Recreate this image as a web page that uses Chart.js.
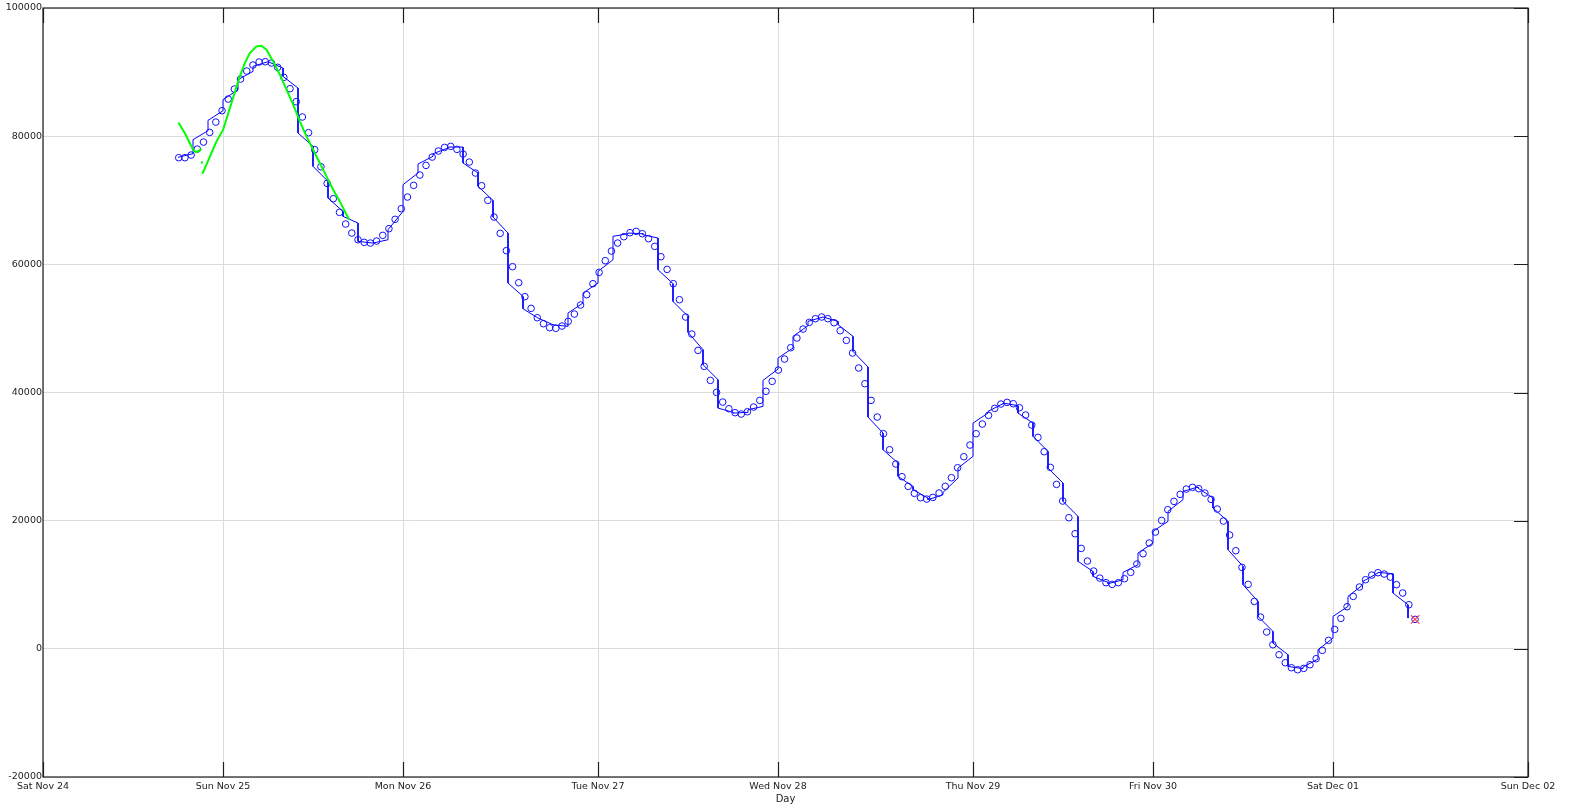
<!DOCTYPE html>
<html>
<head>
<meta charset="utf-8">
<script src="https://cdn.jsdelivr.net/npm/chart.js@4.4.0/dist/chart.umd.min.js"></script>
<style>
  html, body { margin: 0; padding: 0; background: #fff; }
</style>
</head>
<body>
<canvas id="chart" width="1583" height="804"></canvas>
<script>
// x is in hours since Sat Nov 24 00:00
const xTickHours = [0, 24, 48, 74, 98, 124, 148, 172, 198];
const xTickLabels = ['Sat Nov 24', 'Sun Nov 25', 'Mon Nov 26', 'Tue Nov 27', 'Wed Nov 28',
  'Thu Nov 29', 'Fri Nov 30', 'Sat Dec 01', 'Sun Dec 02'];

// sampled values (blue circles), regular sampling
const sampleStart = 18.1;
const sampleStep = 0.8242;
const samples = [
  76640, 76640, 77050, 77990, 79080, 80590, 82200, 83970, 85790, 87350,
  88910, 90160, 91100, 91570, 91620, 91410, 90740, 89180, 87410, 85380,
  82990, 80540, 77890, 75230, 72630, 70240, 68110, 66290, 64880, 63840,
  63430, 63320, 63630, 64520, 65560, 67020, 68680, 70500, 72320, 73930,
  75440, 76740, 77680, 78250, 78410, 77940, 77210, 75960, 74250, 72270,
  69980, 67380, 64830, 62130, 59630, 57130, 54950, 53130, 51670, 50730,
  50110, 50010, 50370, 51100, 52240, 53650, 55260, 56980, 58740, 60570,
  62070, 63320, 64310, 64940, 65140, 64780, 64000, 62800, 61190, 59210,
  56980, 54480,
  51780, 49120, 46570, 44080, 41890, 40020, 38510, 37470, 36850, 36640,
  37000, 37730, 38770, 40180, 41740, 43500, 45220, 46990, 48500, 49900,
  50940, 51520, 51780, 51520, 50890, 49640, 48130, 46160, 43820, 41370,
  38770, 36170, 33570, 31070, 28840, 26860, 25350, 24260, 23580, 23370,
  23630,
  24310, 25350, 26700, 28260, 29980, 31800, 33570, 35080, 36430, 37520,
  38200, 38460, 38250, 37630, 36480, 34920, 33000, 30760, 28320, 25660,
  23060, 20460, 17960, 15670, 13700, 12140, 11040, 10320, 10060, 10320,
  10940, 11930, 13230, 14840, 16510, 18220, 20040, 21710, 23010, 24100,
  24930,
  25200, 24990, 24310, 23320, 21810, 19940, 17760, 15310, 12710, 10060,
  7400, 4960, 2620, 640, -920, -2170, -2950, -3260, -3050, -2480,
  -1540, -240, 1320, 3030, 4750, 6570, 8180, 9640, 10790, 11510,
  11880, 11670, 11200, 10010, 8710, 6880, 4600
];

// piecewise line: one segment per 2 h window, value at window start and end
const stepStartHour = 18;
const stepWidth = 2;
const stepFrom = [
  76700, 79450, 82460, 85690, 88810, 90890, 91620, 89330, 80490, 75290,
  70340, 67480, 63580, 63320, 65400, 72430, 75650, 77260, 78300, 75810,
  72170, 67380, 57080, 53070, 51620, 50580, 52400, 55520, 58900, 64370,
  64880, 64620, 59160, 54200, 49380, 44340, 37570, 36790, 37310, 41890,
  45380, 48760, 51100, 51780, 50580, 46420, 36170, 31070, 26910, 24830,
  23270, 24410, 28210, 35230, 37050, 38360, 36790, 33150, 28210, 23010,
  13650, 11300, 10160, 11930, 14950, 18330, 21450, 24570, 25090, 21970,
  15470, 10010, 5060, 900, -2740, -2840, -140, 5060, 8180, 10530,
  11930, 8710
];
const stepTo = [
  77260, 80850, 83970, 87250, 90110, 91620, 90630, 87510, 78410, 72950,
  68260, 66440, 63320, 63840, 68260, 74250, 76850, 78150, 78300, 74250,
  69980, 64880, 55000, 51620, 50580, 50320, 53960, 57080, 60720, 64780,
  64780, 64100, 56980, 51880, 46680, 42000, 36900, 36900, 37830, 43660,
  46940, 50420, 51780, 51100, 48760, 43970, 33670, 28990, 25350, 23530,
  24050, 26650, 30030, 36790, 38250, 37940, 35230, 30810, 25870, 20670,
  12080, 10370, 10780, 13130, 16510, 19890, 23270, 25250, 23530, 19890,
  12870, 7400, 2720, -920, -3100, -1600, 1680, 6620, 10010, 11830,
  11720, 6880
];
const stepTail = 4800;

// green trace (null = gap)
const greenHours = [18.06, 18.90, 19.57, 20.01, 20.37, 20.77, 21.13, 21.17, 21.19, 21.21,
  21.25, 21.79, 22.46, 23.13, 24.02, 25.13, 26.24, 26.91, 27.58, 28.46,
  29.13, 29.80, 30.69, 31.58, 32.47, 33.36, 34.25, 35.13, 36.02, 36.91,
  37.80, 38.69, 39.58, 40.47, 40.83];
const greenValues = [82150, 80490, 78930, 77890, 77520, 77680, 77990, null, 75910, null,
  74140, 75550, 77370, 79190, 81010, 85170, 89330, 91410, 92970, 94010,
  94120, 93490, 91670, 89590, 87250, 84910, 82310, 79970, 77890, 75810,
  73730, 71640, 69820, 67740, 66960];

// latest point (red cross)
const latestHour = 182.95;
const latestValue = 4600;

const samplePoints = samples.map((v, i) => ({ x: sampleStart + i * sampleStep, y: v }));
const stepPoints = [];
stepFrom.forEach((v, i) => {
  const h = stepStartHour + i * stepWidth;
  stepPoints.push({ x: h, y: v }, { x: h + stepWidth, y: stepTo[i] });
});
stepPoints.push({ x: stepStartHour + stepFrom.length * stepWidth, y: stepTail });
const greenPoints = greenHours.map((h, i) => ({ x: h, y: greenValues[i] }));

// frame and inward tick marks
const framePlugin = {
  id: 'frame',
  afterDraw(chart) {
    const { ctx, chartArea: a, scales: { x, y } } = chart;
    ctx.save();
    ctx.strokeStyle = '#1e1e1e';
    ctx.lineWidth = 1.2;
    ctx.strokeRect(a.left, a.top, a.right - a.left, a.bottom - a.top);
    ctx.beginPath();
    x.ticks.forEach(t => {
      const px = Math.round(x.getPixelForValue(t.value)) + 0.5;
      ctx.moveTo(px, a.bottom); ctx.lineTo(px, a.bottom - 15);
      ctx.moveTo(px, a.top); ctx.lineTo(px, a.top + 15);
    });
    y.ticks.forEach(t => {
      const py = Math.round(y.getPixelForValue(t.value)) + 0.5;
      ctx.moveTo(a.right, py); ctx.lineTo(a.right - 14, py);
    });
    ctx.stroke();
    ctx.restore();
  }
};

const font = { family: 'DejaVu Sans', size: 9.5 };

new Chart(document.getElementById('chart'), {
  type: 'line',
  data: {
    datasets: [
      {
        label: 'latest',
        data: [{ x: latestHour, y: latestValue }],
        showLine: false,
        pointStyle: 'crossRot',
        pointRadius: 6,
        borderColor: '#ff4444',
        borderWidth: 1.3,
        order: 0
      },
      {
        label: 'green',
        data: greenPoints,
        borderColor: '#00ff00',
        backgroundColor: '#00ff00',
        borderWidth: 2,
        spanGaps: false,
        pointRadius: ctx => {
          const d = ctx.dataset.data, i = ctx.dataIndex;
          return (d[i].y !== null && d[i - 1] && d[i - 1].y === null && d[i + 1] && d[i + 1].y === null) ? 1.2 : 0;
        },
        pointBorderWidth: 0,
        order: 1
      },
      {
        label: 'samples',
        data: samplePoints,
        showLine: false,
        pointStyle: 'circle',
        pointRadius: 3.3,
        borderColor: '#1010ff',
        backgroundColor: 'rgba(0,0,0,0)',
        borderWidth: 1,
        order: 2
      },
      {
        label: 'step',
        data: stepPoints,
        borderColor: '#0000ff',
        borderWidth: 1,
        pointRadius: 0,
        order: 3
      }
    ]
  },
  options: {
    responsive: false,
    animation: false,
    layout: { padding: { top: 8, right: 55, left: 0, bottom: 0 } },
    plugins: { legend: { display: false }, tooltip: { enabled: false } },
    scales: {
      x: {
        type: 'linear',
        min: 0,
        max: 198,
        afterBuildTicks: scale => { scale.ticks = xTickHours.map(v => ({ value: v })); },
        afterFit: scale => { scale.height = 27; },
        ticks: {
          font: font,
          color: '#222',
          padding: 4,
          maxRotation: 0,
          autoSkip: false,
          callback: (v, i) => xTickLabels[i]
        },
        grid: { color: '#dcdcdc', drawTicks: false },
        border: { display: false },
        title: { display: true, text: 'Day', font: { family: 'DejaVu Sans', size: 10, lineHeight: 1 }, color: '#222', padding: 0 }
      },
      y: {
        min: -20000,
        max: 100000,
        afterFit: scale => { scale.width = 43; },
        ticks: {
          stepSize: 20000,
          font: font,
          color: '#222',
          padding: 1,
          callback: v => String(v)
        },
        grid: { color: '#dcdcdc', drawTicks: false },
        border: { display: false }
      }
    }
  },
  plugins: [framePlugin]
});
</script>
</body>
</html>
